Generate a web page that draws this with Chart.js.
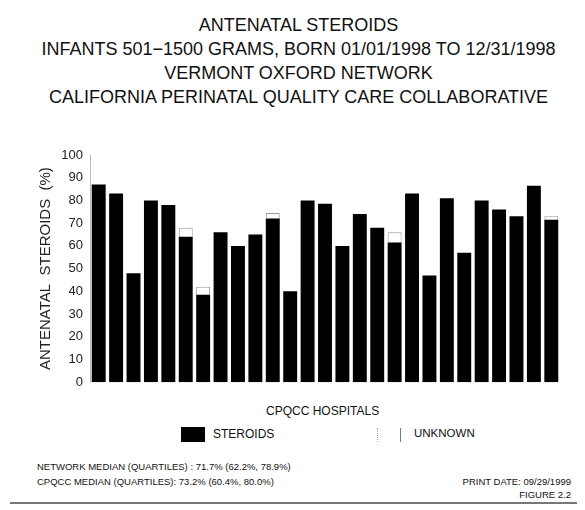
<!DOCTYPE html>
<html>
<head>
<meta charset="utf-8">
<script src="https://cdn.jsdelivr.net/npm/chart.js@4"></script>
<style>
  body { margin: 0; background: #fff; font-family: "Liberation Sans", Arial, sans-serif; color: #111; }
  #page { position: relative; width: 585px; height: 510px; overflow: hidden; }
  .t { position: absolute; white-space: nowrap; }
  .title { left: 6px; width: 585px; text-align: center; font-size: 18px; }
  .foot { font-size: 9.5px; }
  #chartBox { position: absolute; left: 0; top: 140px; width: 585px; height: 257px; }
  .legBox { position: absolute; }
</style>
</head>
<body>
<div id="page">
  <div class="t title" style="top:15px">ANTENATAL STEROIDS</div>
  <div class="t title" style="top:39px">INFANTS 501&minus;1500 GRAMS, BORN 01/01/1998 TO 12/31/1998</div>
  <div class="t title" style="top:63px">VERMONT OXFORD NETWORK</div>
  <div class="t title" style="top:87px">CALIFORNIA PERINATAL QUALITY CARE COLLABORATIVE</div>

  <div id="chartBox"><canvas id="steroidChart"></canvas></div>

  <div class="t" style="left:266px; top:404px; font-size:12px">CPQCC HOSPITALS</div>
  <div class="legBox" style="left:181px; top:427px; width:24px; height:15px; background:#000"></div>
  <div class="t" style="left:213px; top:427px; font-size:12px">STEROIDS</div>
  <div class="legBox" style="left:377px; top:428px; width:22px; height:14px; border-left:1px dotted #aaa; border-right:1px solid #777"></div>
  <div class="t" style="left:414px; top:427px; font-size:11.5px">UNKNOWN</div>

  <div class="t foot" style="left:37px; top:461px">NETWORK MEDIAN (QUARTILES) : 71.7% (62.2%, 78.9%)</div>
  <div class="t foot" style="left:37px; top:476px">CPQCC MEDIAN (QUARTILES): 73.2% (60.4%, 80.0%)</div>
  <div class="t foot" style="right:14px; top:476px">PRINT DATE: 09/29/1999</div>
  <div class="t foot" style="right:14px; top:489px">FIGURE 2.2</div>
  <div style="position:absolute; left:10px; top:502px; width:567px; height:2px; background:#777"></div>
</div>

<script>
// hospitals (unlabelled in the original)
const hospitals = Array.from({ length: 27 }, (_, i) => 'H' + (i + 1));
// percent of infants receiving antenatal steroids
const steroids = [87, 83, 48, 80, 78, 64, 38.5, 66, 60, 65, 72, 40, 80, 78.5,
                  60, 74, 68, 61.5, 83, 47, 81, 57, 80, 76, 73, 86.5, 71.5];
// percent with unknown status, stacked on top
const unknown = [0, 0, 0, 0, 0, 4, 3.5, 0, 0, 0, 2.5, 0, 0, 0,
                 0, 0, 0, 4.5, 0, 0, 0, 0, 0, 0, 0, 0, 1.5];
const yTicks = [0, 10, 20, 30, 40, 50, 60, 70, 80, 90, 100];

const ctx = document.getElementById('steroidChart').getContext('2d');

const steroidChart = new Chart(ctx, {
    type: 'bar',
    data: {
        labels: hospitals,
        datasets: [{
            label: 'STEROIDS',
            data: steroids,
            backgroundColor: '#000',
            borderWidth: 0,
            barPercentage: 0.8,
            categoryPercentage: 1
        }, {
            label: 'UNKNOWN',
            data: unknown,
            backgroundColor: '#fff',
            borderColor: '#999',
            borderWidth: { left: 1, right: 1, top: 1, bottom: 0 },
            barPercentage: 0.8,
            categoryPercentage: 1
        }]
    },
    options: {
        responsive: true,
        maintainAspectRatio: false,
        animation: false,
        layout: {
            padding: { top: 15, right: 25, bottom: 0, left: 0 }
        },
        scales: {
            x: {
                stacked: true,
                display: false
            },
            y: {
                stacked: true,
                min: 0,
                max: 100,
                afterFit: function (scale) {
                    scale.width = 90; // fija el borde izquierdo del área
                },
                afterBuildTicks: function (scale) {
                    scale.ticks = yTicks.map(v => ({ value: v }));
                },
                grid: {
                    display: false,
                    drawTicks: false
                },
                border: {
                    display: true,
                    color: '#bbb',
                    width: 1
                },
                ticks: {
                    padding: 7,
                    color: '#222',
                    font: { family: 'Liberation Sans', size: 13 }
                },
                title: {
                    display: true,
                    text: 'ANTENATAL  STEROIDS  (%)',
                    color: '#222',
                    padding: { top: 37, bottom: 0 },
                    font: { family: 'Liberation Sans', size: 15 }
                }
            }
        },
        plugins: {
            legend: { display: false },
            tooltip: { enabled: false }
        }
    }
});
</script>
</body>
</html>
